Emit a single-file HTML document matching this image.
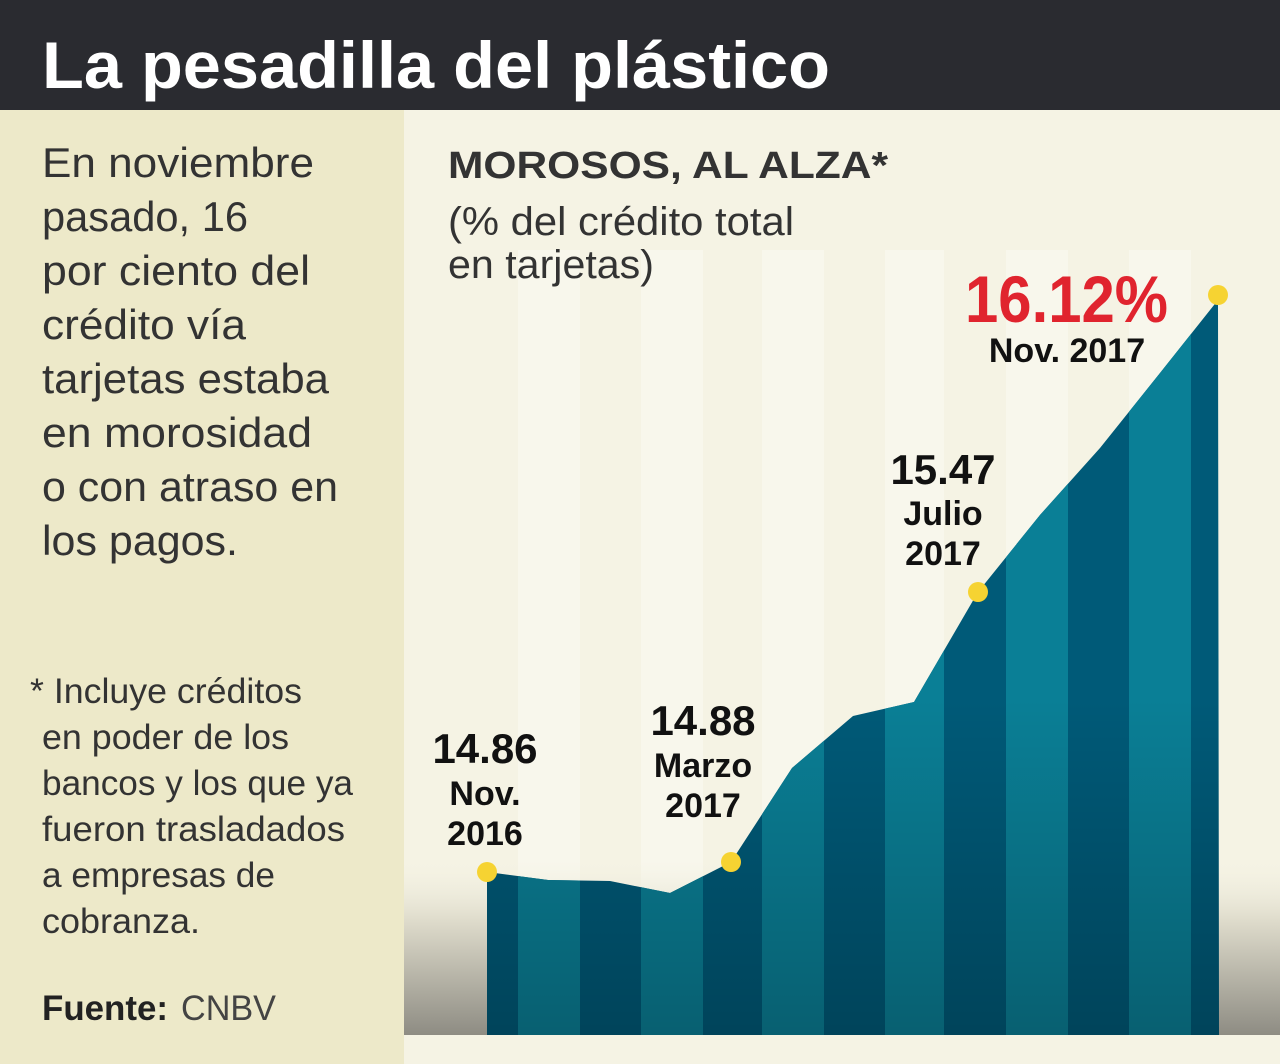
<!DOCTYPE html>
<html><head><meta charset="utf-8"><style>
html,body{margin:0;padding:0;background:#f5f3e4;}
svg{display:block;}
text{font-family:"Liberation Sans",sans-serif;}
</style></head><body>
<svg width="1280" height="1064" viewBox="0 0 1280 1064" xmlns="http://www.w3.org/2000/svg">
<defs>
<linearGradient id="gnd" x1="0" y1="0" x2="0" y2="1">
<stop offset="0" stop-color="#f3f1e2" stop-opacity="0"/>
<stop offset="0.35" stop-color="#dedbcb"/>
<stop offset="1" stop-color="#8e8c83"/>
</linearGradient>
<linearGradient id="shade" x1="0" y1="0" x2="0" y2="1">
<stop offset="0" stop-color="#000" stop-opacity="0"/>
<stop offset="0.55" stop-color="#000" stop-opacity="0"/>
<stop offset="1" stop-color="#000" stop-opacity="0.25"/>
</linearGradient>
<clipPath id="area"><path d="M487,872 L548,880 L610,881 L670,893 L731,862 L792,768 L853,716 L914,702 L978,592 L1040,515 L1100,448 L1160,373 L1218,300 L1219,1035 L487,1035 Z"/></clipPath>
</defs>
<rect x="0" y="0" width="1280" height="110" fill="#2a2b30"/>
<text x="42" y="88" font-size="66" font-weight="bold" fill="#fff" textLength="788" lengthAdjust="spacingAndGlyphs">La pesadilla del plástico</text>
<rect x="0" y="110" width="404" height="954" fill="#ede9c9"/>
<rect x="404" y="110" width="876" height="954" fill="#f5f3e4"/>
<g fill="#f8f7ec">
<rect x="518" y="250" width="62" height="785"/><rect x="641" y="250" width="62" height="785"/><rect x="762" y="250" width="62" height="785"/><rect x="885" y="250" width="59" height="785"/><rect x="1006" y="250" width="62" height="785"/><rect x="1129" y="250" width="62" height="785"/>
</g>
<rect x="404" y="860" width="876" height="175" fill="url(#gnd)"/>
<rect x="404" y="1035" width="876" height="29" fill="#f5f3e4"/>
<g clip-path="url(#area)">
<rect x="480" y="280" width="750" height="760" fill="#005a78"/>
<g fill="#0a7f96">
<rect x="518" y="280" width="62" height="760"/><rect x="641" y="280" width="62" height="760"/><rect x="762" y="280" width="62" height="760"/><rect x="885" y="280" width="59" height="760"/><rect x="1006" y="280" width="62" height="760"/><rect x="1129" y="280" width="62" height="760"/>
</g>
<rect x="480" y="280" width="750" height="760" fill="url(#shade)"/>
</g>
<g fill="#f6d332">
<circle cx="487" cy="872" r="10"/><circle cx="731" cy="862" r="10"/><circle cx="978" cy="592" r="10"/><circle cx="1218" cy="295" r="10"/>
</g>
<g fill="#333" font-size="42">
<text x="42" y="177" textLength="272" lengthAdjust="spacingAndGlyphs">En noviembre</text>
<text x="42" y="231" textLength="206" lengthAdjust="spacingAndGlyphs">pasado, 16</text>
<text x="42" y="285" textLength="268" lengthAdjust="spacingAndGlyphs">por ciento del</text>
<text x="42" y="339" textLength="204" lengthAdjust="spacingAndGlyphs">crédito vía</text>
<text x="42" y="393" textLength="287" lengthAdjust="spacingAndGlyphs">tarjetas estaba</text>
<text x="42" y="447" textLength="270" lengthAdjust="spacingAndGlyphs">en morosidad</text>
<text x="42" y="501" textLength="296" lengthAdjust="spacingAndGlyphs">o con atraso en</text>
<text x="42" y="555" textLength="196" lengthAdjust="spacingAndGlyphs">los pagos.</text>
</g>
<g fill="#333" font-size="35">
<text x="30" y="703" textLength="272" lengthAdjust="spacingAndGlyphs">* Incluye créditos</text>
<text x="42" y="749" textLength="247" lengthAdjust="spacingAndGlyphs">en poder de los</text>
<text x="42" y="795" textLength="311" lengthAdjust="spacingAndGlyphs">bancos y los que ya</text>
<text x="42" y="841" textLength="303" lengthAdjust="spacingAndGlyphs">fueron trasladados</text>
<text x="42" y="887" textLength="233" lengthAdjust="spacingAndGlyphs">a empresas de</text>
<text x="42" y="933" textLength="158" lengthAdjust="spacingAndGlyphs">cobranza.</text>
<text x="42" y="1020" font-weight="bold" fill="#222" textLength="126" lengthAdjust="spacingAndGlyphs">Fuente:</text>
<text x="181" y="1020" fill="#444" textLength="95" lengthAdjust="spacingAndGlyphs">CNBV</text>
</g>
<text x="448" y="178" font-size="38" font-weight="bold" fill="#333" textLength="440" lengthAdjust="spacingAndGlyphs">MOROSOS, AL ALZA*</text>
<text x="448" y="235" font-size="40" fill="#333" textLength="346" lengthAdjust="spacingAndGlyphs">(% del crédito total</text>
<text x="448" y="278" font-size="40" fill="#333" textLength="206" lengthAdjust="spacingAndGlyphs">en tarjetas)</text>
<g fill="#111" font-weight="bold" text-anchor="middle">
<text x="485" y="763" font-size="42">14.86</text>
<text x="485" y="805" font-size="34">Nov.</text>
<text x="485" y="845" font-size="34">2016</text>
<text x="703" y="735" font-size="42">14.88</text>
<text x="703" y="777" font-size="34">Marzo</text>
<text x="703" y="817" font-size="34">2017</text>
<text x="943" y="484" font-size="42">15.47</text>
<text x="943" y="525" font-size="34">Julio</text>
<text x="943" y="565" font-size="34">2017</text>
<text x="1067" y="362" font-size="34">Nov. 2017</text>
</g>
<text x="965" y="322" font-size="66" font-weight="bold" fill="#e0242e" textLength="203" lengthAdjust="spacingAndGlyphs">16.12%</text>
</svg>
</body></html>
